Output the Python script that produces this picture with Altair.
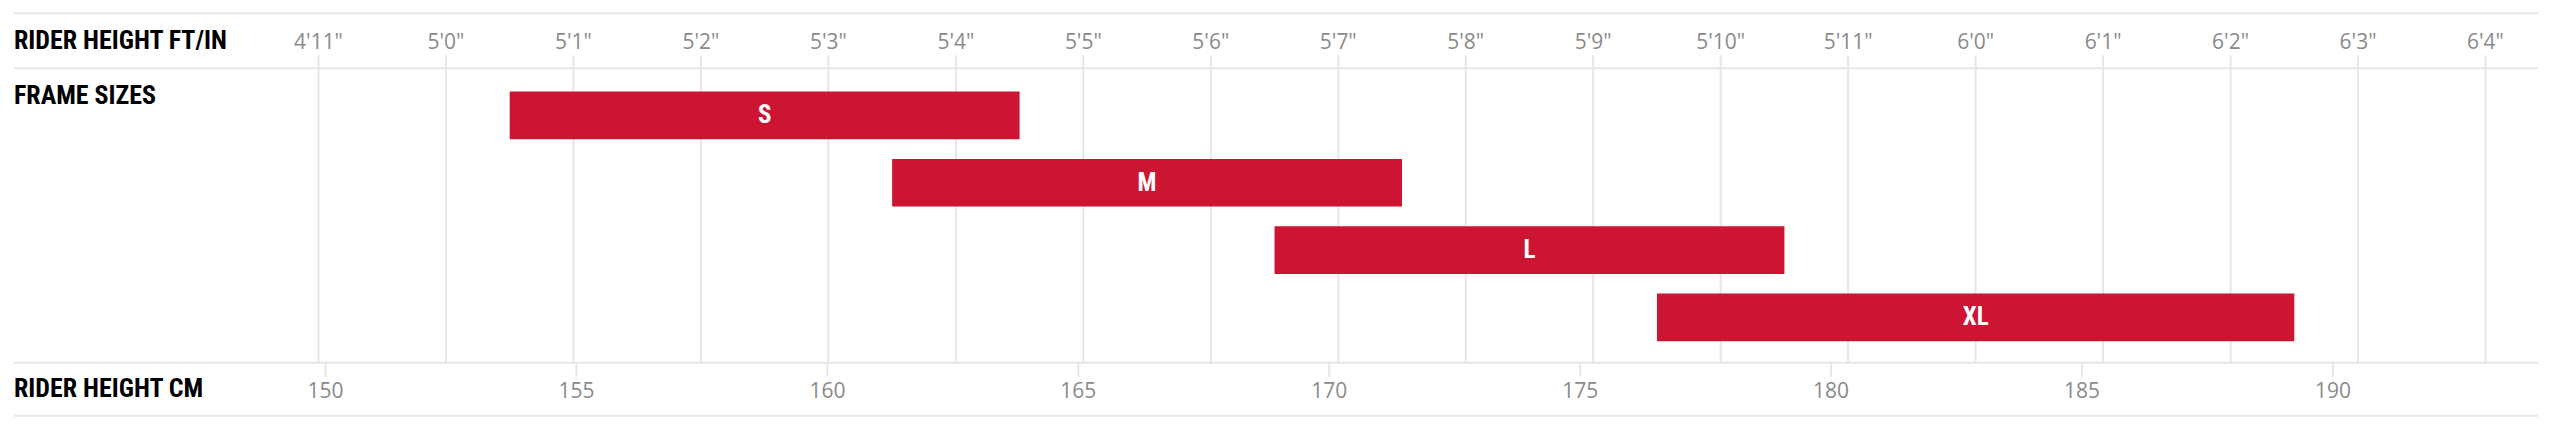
import altair as alt
import pandas as pd

# ---- data (heights in inches; cm ticks converted to inches for one shared scale)
sizes = ["S", "M", "L", "XL"]
size_min_in = [60.5, 63.5, 66.5, 69.5]
size_max_in = [64.5, 67.5, 70.5, 74.5]

ftin_values = list(range(59, 77))
ftin_labels = ["4'11\"", "5'0\"", "5'1\"", "5'2\"", "5'3\"", "5'4\"", "5'5\"", "5'6\"",
               "5'7\"", "5'8\"", "5'9\"", "5'10\"", "5'11\"", "6'0\"", "6'1\"", "6'2\"",
               "6'3\"", "6'4\""]
cm_values = [150, 155, 160, 165, 170, 175, 180, 185, 190]
cm_labels = ["150", "155", "160", "165", "170", "175", "180", "185", "190"]

row_titles = ["RIDER HEIGHT FT/IN", "FRAME SIZES", "RIDER HEIGHT CM"]

# ---- layout / style
W, H = 2528, 295
X_DOMAIN = [56.611, 76.412]
RED = "#CC1533"
LINE = "#e6e6e6"
GRAY = "#8a8a8a"
TITLE_FONT = "Roboto Condensed"
TICK_FONT = "Open Sans, Liberation Sans, sans-serif"

bars_df = pd.DataFrame({"size": sizes, "start": size_min_in, "end": size_max_in})
bars_df["mid"] = (bars_df["start"] + bars_df["end"]) / 2
ftin_df = pd.DataFrame({"inch": ftin_values, "label": ftin_labels})
cm_df = pd.DataFrame({"cm": cm_values, "label": cm_labels})
cm_df["inch"] = cm_df["cm"] / 2.54
dummy = pd.DataFrame({"k": [0]})

xs = alt.Scale(domain=X_DOMAIN, nice=False, zero=False)
X = lambda f: alt.X(f, type="quantitative", scale=xs, axis=None)

grid = alt.Chart(ftin_df).mark_rule(color=LINE, strokeWidth=2).encode(
    x=X("inch"), y=alt.value(-13), y2=alt.value(H))

def hline(yv):
    return alt.Chart(dummy).mark_rule(color=LINE, strokeWidth=2).encode(
        x=alt.value(0), x2=alt.value(W), y=alt.value(yv))

cm_ticks = alt.Chart(cm_df).mark_rule(color=LINE, strokeWidth=2).encode(
    x=X("inch"), y=alt.value(H), y2=alt.value(H + 14))

ys = alt.Scale(domain=sizes, range=[23.4, 273.4], paddingInner=0.292, paddingOuter=0)

bars = alt.Chart(bars_df).mark_bar(color=RED).encode(
    x=X("start"), x2="end",
    y=alt.Y("size:N", scale=ys, axis=None))

bar_labels = alt.Chart(bars_df).mark_text(
    color="white", font=TITLE_FONT, fontSize=25, fontWeight="bold", baseline="middle"
).encode(x=X("mid"), y=alt.Y("size:N", scale=ys, axis=None), text="size:N")

ftin_text = alt.Chart(ftin_df).mark_text(
    color=GRAY, font=TICK_FONT, fontSize=21, baseline="alphabetic", align="center"
).encode(x=X("inch"), y=alt.value(-19.6), text="label:N")

cm_text = alt.Chart(cm_df).mark_text(
    color=GRAY, font=TICK_FONT, fontSize=21, baseline="alphabetic", align="center"
).encode(x=X("inch"), y=alt.value(330), text="label:N")

def title(txt, yv):
    return alt.Chart(dummy).mark_text(
        text=txt, color="black", font=TITLE_FONT, fontSize=26, fontWeight="bold",
        baseline="alphabetic", align="left"
    ).encode(x=alt.value(0), y=alt.value(yv))

chart = alt.layer(
    grid,
    hline(-55), hline(0), hline(H), hline(H + 53),
    cm_ticks,
    bars, bar_labels,
    ftin_text, cm_text,
    title(row_titles[0], -19), title(row_titles[1], 35.7), title(row_titles[2], 329),
).properties(
    width=W, height=H,
    autosize=alt.AutoSizeParams(type="none"),
    padding={"left": 6, "top": 60, "right": 10, "bottom": 60},
).configure_view(stroke=None)

chart.save("out.html", embed_options={"renderer": "svg", "actions": False})
